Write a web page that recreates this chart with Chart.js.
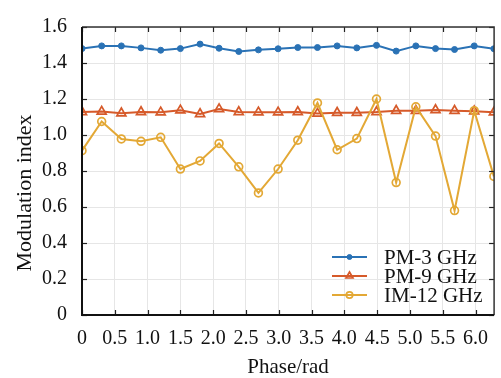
<!DOCTYPE html>
<html><head><meta charset="utf-8">
<script src="https://cdn.jsdelivr.net/npm/chart.js@4/dist/chart.umd.min.js"></script>
<style>html,body{margin:0;padding:0;background:#fff;}</style>
</head><body>
<canvas id="c" width="501" height="378"></canvas>
<script>
// ---- data ----
const phase = [0, 0.30, 0.60, 0.90, 1.20, 1.50, 1.80, 2.09, 2.39, 2.69, 2.99, 3.29, 3.59, 3.89, 4.19, 4.49, 4.79, 5.09, 5.39, 5.68, 5.98, 6.28];
const pm3  = [1.480, 1.495, 1.495, 1.484, 1.471, 1.480, 1.505, 1.482, 1.464, 1.473, 1.479, 1.486, 1.486, 1.495, 1.484, 1.498, 1.466, 1.495, 1.480, 1.475, 1.495, 1.479];
const pm9  = [1.128, 1.130, 1.121, 1.128, 1.126, 1.137, 1.117, 1.144, 1.128, 1.126, 1.126, 1.128, 1.119, 1.124, 1.124, 1.128, 1.135, 1.135, 1.139, 1.135, 1.132, 1.126];
const im12 = [0.913, 1.075, 0.978, 0.965, 0.987, 0.811, 0.856, 0.953, 0.823, 0.678, 0.811, 0.971, 1.178, 0.918, 0.980, 1.200, 0.736, 1.157, 0.994, 0.580, 1.135, 0.770];
const seriesNames = ['PM-3 GHz', 'PM-9 GHz', 'IM-12 GHz'];
const xTitle = 'Phase/rad';
const yTitle = 'Modulation index';

const FONT = 'Liberation Serif, Times New Roman, serif';
const BLUE = '#2a72b5', RED = '#d65a2a', YEL = '#e3a835';

const toPts = (ys) => ys.map((v, i) => ({x: phase[i], y: v}));
const fmt = (v) => v === 0 ? '0' : Number(v).toFixed(1);

const datasets = [
  {label: seriesNames[0], data: toPts(pm3), borderColor: BLUE, backgroundColor: BLUE, borderWidth: 2,
   pointStyle: 'circle', pointRadius: 3, pointBorderWidth: 1, pointBackgroundColor: BLUE, order: 1, legendR: 2.5},
  {label: seriesNames[1], data: toPts(pm9), borderColor: RED, backgroundColor: 'rgba(0,0,0,0)', borderWidth: 2,
   pointStyle: 'triangle', pointRadius: 5.2, pointBorderWidth: 1.7, pointBackgroundColor: 'rgba(0,0,0,0)', order: 3, legendR: 4},
  {label: seriesNames[2], data: toPts(im12), borderColor: YEL, backgroundColor: 'rgba(0,0,0,0)', borderWidth: 2,
   pointStyle: 'circle', pointRadius: 3.9, pointBorderWidth: 1.7, pointBackgroundColor: 'rgba(0,0,0,0)', order: 2, legendR: 3.2}
];

const framePlugin = {
  id: 'frame',
  afterDatasetsDraw(chart) {
    const {ctx, chartArea: a, scales: {x, y}} = chart;
    ctx.save();
    ctx.strokeStyle = '#222';
    ctx.lineWidth = 1.2;
    const tl = 5;
    x.ticks.forEach(t => {
      const px = Math.round(x.getPixelForValue(t.value)) + 0.5;
      ctx.beginPath(); ctx.moveTo(px, a.bottom); ctx.lineTo(px, a.bottom - tl); ctx.stroke();
      ctx.beginPath(); ctx.moveTo(px, a.top); ctx.lineTo(px, a.top + tl); ctx.stroke();
    });
    y.ticks.forEach(t => {
      const py = Math.round(y.getPixelForValue(t.value)) + 0.5;
      ctx.beginPath(); ctx.moveTo(a.left, py); ctx.lineTo(a.left + tl, py); ctx.stroke();
      ctx.beginPath(); ctx.moveTo(a.right, py); ctx.lineTo(a.right - tl, py); ctx.stroke();
    });
    ctx.strokeStyle = '#333'; ctx.lineWidth = 1.5;
    ctx.beginPath(); ctx.moveTo(a.left, a.top); ctx.lineTo(a.right, a.top); ctx.lineTo(a.right, a.bottom); ctx.stroke();
    ctx.strokeStyle = '#111'; ctx.lineWidth = 2;
    ctx.beginPath(); ctx.moveTo(a.left, a.top); ctx.lineTo(a.left, a.bottom); ctx.lineTo(a.right, a.bottom); ctx.stroke();
    ctx.restore();
  },
  afterDraw(chart) {
    const {ctx} = chart;
    ctx.save();
    // y axis title
    ctx.translate(25, 193);
    ctx.rotate(-Math.PI / 2);
    ctx.font = '22px ' + FONT;
    ctx.fillStyle = '#111';
    ctx.textAlign = 'center';
    ctx.textBaseline = 'middle';
    ctx.fillText(yTitle, 0, 0);
    ctx.restore();
    // legend
    ctx.save();
    const rows = [257, 276, 295];
    chart.data.datasets.forEach((ds, i) => {
      const yy = rows[i];
      ctx.strokeStyle = ds.borderColor; ctx.lineWidth = 2;
      ctx.beginPath(); ctx.moveTo(332, yy); ctx.lineTo(367, yy); ctx.stroke();
      ctx.lineWidth = ds.pointBorderWidth;
      ctx.fillStyle = ds.pointBackgroundColor;
      Chart.helpers.drawPoint(ctx, {pointStyle: ds.pointStyle, radius: ds.legendR, borderWidth: ds.pointBorderWidth, rotation: 0}, 349.5, yy);
      ctx.fillStyle = '#111';
      ctx.font = '21px ' + FONT;
      ctx.textAlign = 'left'; ctx.textBaseline = 'middle';
      ctx.fillText(ds.label, 384, yy + 1);
    });
    ctx.restore();
  }
};

new Chart(document.getElementById('c'), {
  type: 'line',
  data: {datasets},
  options: {
    responsive: false,
    animation: false,
    layout: {padding: {left: 0, right: 3, top: 19, bottom: 0}},
    plugins: {legend: {display: false}, tooltip: {enabled: false}},
    scales: {
      x: {
        type: 'linear', min: 0, max: 6.2832,
        afterFit(s) { s.height = 63; },
        grid: {color: '#e6e6e6', lineWidth: 1, drawTicks: false},
        border: {display: false},
        ticks: {stepSize: 0.5, includeBounds: false, autoSkip: false, maxRotation: 0, padding: 12,
                color: '#111', font: {family: FONT, size: 20}, callback: fmt},
        title: {display: true, text: xTitle, color: '#111', font: {family: FONT, size: 21, lineHeight: 1},
                padding: {top: 0, bottom: 0.5}}
      },
      y: {
        min: 0, max: 1.6,
        afterFit(s) { s.width = 82; },
        grid: {color: '#e6e6e6', lineWidth: 1, drawTicks: false},
        border: {display: false},
        ticks: {stepSize: 0.2, padding: 15, color: '#111', font: {family: FONT, size: 20}, callback: fmt}
      }
    }
  },
  plugins: [framePlugin]
});
</script>
</body></html>
